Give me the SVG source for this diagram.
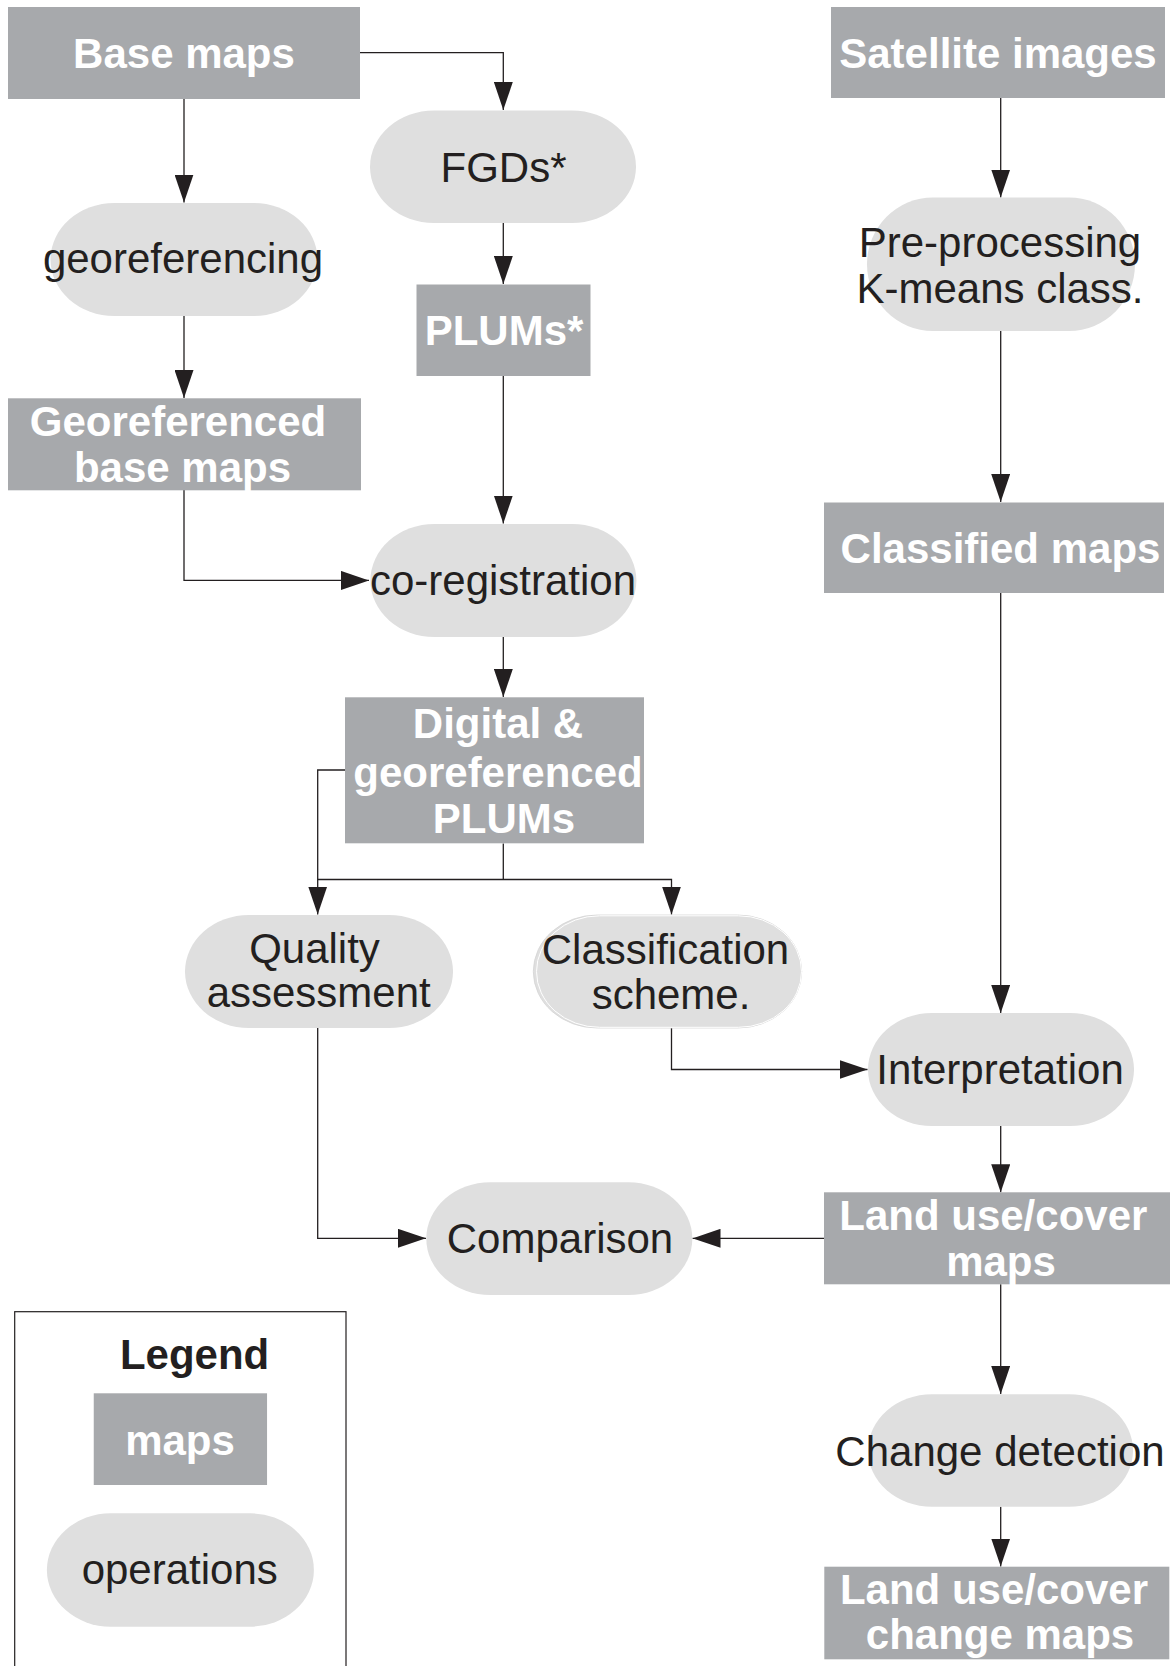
<svg xmlns="http://www.w3.org/2000/svg" width="1174" height="1666" viewBox="0 0 1174 1666">
<style>
.map{fill:#a7a9ac}
.op{fill:#dfdfdf}
.mt{font-family:"Liberation Sans",Arial,sans-serif;font-weight:bold;font-size:42px;fill:#ffffff;text-anchor:middle}
.ot{font-family:"Liberation Sans",Arial,sans-serif;font-size:42px;fill:#231f20;text-anchor:middle}
.lt{font-family:"Liberation Sans",Arial,sans-serif;font-weight:bold;font-size:42px;fill:#231f20;text-anchor:middle}
.conn path{fill:none;stroke:#231f20;stroke-width:1.3}
</style>
<defs>
<marker id="ah" markerUnits="userSpaceOnUse" markerWidth="28" markerHeight="19" refX="28" refY="9.5" orient="auto">
<path d="M0,0 L28,9.5 L0,19 z" fill="#231f20"/>
</marker>
</defs>
<rect width="1174" height="1666" fill="#ffffff"/>

<g id="connectors" class="conn">
<path d="M360,52.7 H503.3 V110" marker-end="url(#ah)"/>
<path d="M184,98.7 V202.5" marker-end="url(#ah)"/>
<path d="M184,316 V398" marker-end="url(#ah)"/>
<path d="M503.3,223 V284" marker-end="url(#ah)"/>
<path d="M503.3,376 V523.5" marker-end="url(#ah)"/>
<path d="M184,490 V580.4 H369" marker-end="url(#ah)"/>
<path d="M503.3,637 V697" marker-end="url(#ah)"/>
<path d="M345,770 H317.7 V914.5" marker-end="url(#ah)"/>
<path d="M503.3,843.5 V879.5"/>
<path d="M317.7,879.5 H671.5 V914.5" marker-end="url(#ah)"/>
<path d="M671.5,1028 V1069.5 H867.5" marker-end="url(#ah)"/>
<path d="M1000.7,98 V197.5" marker-end="url(#ah)"/>
<path d="M1000.7,331 V502" marker-end="url(#ah)"/>
<path d="M1000.7,593 V1013" marker-end="url(#ah)"/>
<path d="M1000.7,1126 V1192.3" marker-end="url(#ah)"/>
<path d="M824,1238.3 H692.5" marker-end="url(#ah)"/>
<path d="M317.7,1028 V1238.3 H426" marker-end="url(#ah)"/>
<path d="M1000.7,1284.3 V1394" marker-end="url(#ah)"/>
<path d="M1000.7,1506.7 V1566.5" marker-end="url(#ah)"/>
</g>

<g id="base-maps">
<rect class="map" x="8" y="7" width="352" height="92"/>
<text class="mt" x="184" y="68">Base maps</text>
</g>
<g id="satellite-images">
<rect class="map" x="831" y="7" width="334" height="91"/>
<text class="mt" x="998" y="68">Satellite images</text>
</g>
<g id="fgds">
<rect class="op" x="370" y="110.5" width="266" height="112.5" rx="64" ry="56.25"/>
<text class="ot" x="503.5" y="181.5">FGDs*</text>
</g>
<g id="georeferencing">
<rect class="op" x="50.5" y="203" width="267" height="113" rx="64" ry="56.5"/>
<text class="ot" x="183" y="273">georeferencing</text>
</g>
<g id="plums">
<rect class="map" x="416.5" y="284.5" width="174" height="91.5"/>
<text class="mt" x="504" y="344.5">PLUMs*</text>
</g>
<g id="georeferenced-base-maps">
<rect class="map" x="8" y="398.3" width="353" height="92"/>
<text class="mt" x="178" y="436">Georeferenced</text>
<text class="mt" x="182.5" y="482">base maps</text>
</g>
<g id="pre-processing">
<rect class="op" x="867" y="197.5" width="268" height="133.5" rx="66" ry="66.75"/>
<text class="ot" x="1000" y="257">Pre-processing</text>
<text class="ot" x="1000" y="303">K-means class.</text>
</g>
<g id="classified-maps">
<rect class="map" x="824" y="502.5" width="340" height="90.5"/>
<text class="mt" x="1000.5" y="562.5">Classified maps</text>
</g>
<g id="co-registration">
<rect class="op" x="370.4" y="524" width="266" height="113" rx="64" ry="56.5"/>
<text class="ot" x="503" y="595">co-registration</text>
</g>
<g id="digital-plums">
<rect class="map" x="345" y="697.3" width="299" height="146"/>
<text class="mt" x="498" y="738">Digital &amp;</text>
<text class="mt" x="498" y="787">georeferenced</text>
<text class="mt" x="504" y="833">PLUMs</text>
</g>
<g id="quality-assessment">
<rect class="op" x="185" y="915" width="268" height="113" rx="64" ry="56.5"/>
<text class="ot" x="314.5" y="963">Quality</text>
<text class="ot" x="318.7" y="1007">assessment</text>
</g>
<g id="classification-scheme">
<rect class="op" x="533.3" y="915" width="268.4" height="113" rx="64" ry="56.5" stroke="#d4d4d4" stroke-width="0.8"/>
<rect class="op" x="536.5" y="915.8" width="265" height="111.5" rx="63" ry="55.75" stroke="#ffffff" stroke-width="1"/>
<text class="ot" x="665.5" y="964">Classification</text>
<text class="ot" x="671" y="1009">scheme.</text>
</g>
<g id="interpretation">
<rect class="op" x="868" y="1013" width="266" height="113" rx="64" ry="56.5"/>
<text class="ot" x="1000" y="1084">Interpretation</text>
</g>
<g id="land-use-cover-maps">
<rect class="map" x="824" y="1192.3" width="346" height="92"/>
<text class="mt" x="993.3" y="1230">Land use/cover</text>
<text class="mt" x="1001" y="1276">maps</text>
</g>
<g id="comparison">
<rect class="op" x="426.3" y="1182.3" width="266" height="112.7" rx="64" ry="56.35"/>
<text class="ot" x="560" y="1252.5">Comparison</text>
</g>
<g id="change-detection">
<rect class="op" x="868" y="1394.3" width="265" height="112.4" rx="64" ry="56.2"/>
<text class="ot" x="1000" y="1465.5">Change detection</text>
</g>
<g id="land-use-cover-change-maps">
<rect class="map" x="824.3" y="1566.7" width="345" height="92.6"/>
<text class="mt" x="994" y="1604">Land use/cover</text>
<text class="mt" x="1000" y="1649">change maps</text>
</g>
<g id="legend">
<rect x="14.7" y="1311.7" width="331.3" height="400" fill="none" stroke="#231f20" stroke-width="1.2"/>
<text class="lt" x="194.6" y="1369">Legend</text>
<rect class="map" x="93.75" y="1393.3" width="173.3" height="91.7"/>
<text class="mt" x="180" y="1454.5">maps</text>
<rect class="op" x="46.9" y="1513.3" width="267" height="113.4" rx="64" ry="56.7"/>
<text class="ot" x="179.7" y="1584">operations</text>
</g>
</svg>
